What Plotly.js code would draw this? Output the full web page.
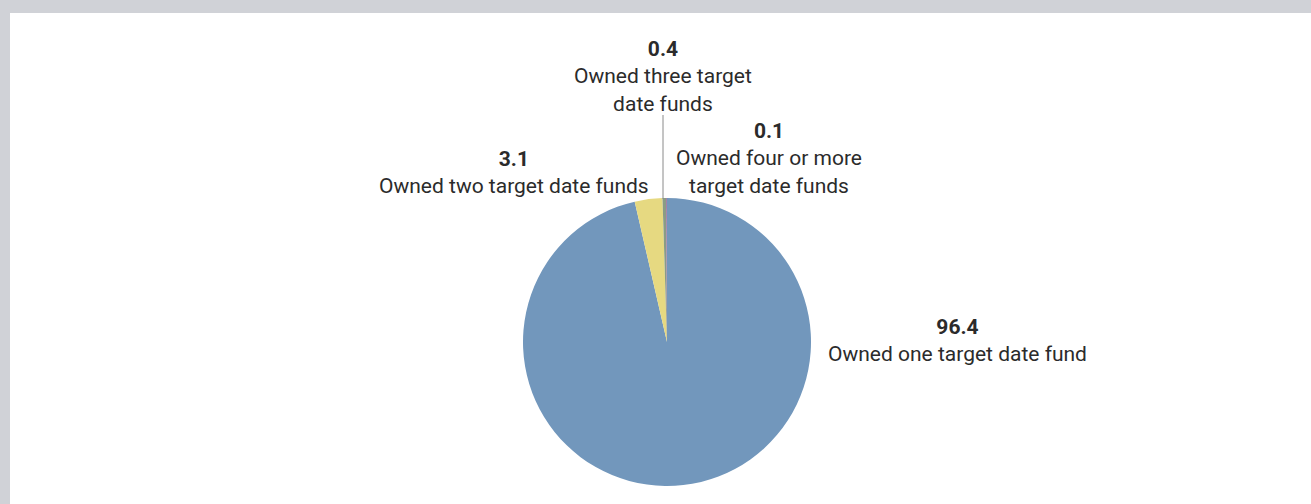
<!DOCTYPE html>
<html>
<head>
<meta charset="utf-8">
<script src="https://cdn.plot.ly/plotly-3.0.1.min.js"></script>
<style>
  html, body { margin: 0; padding: 0; background: #d0d2d7; }
  #chart { width: 1311px; height: 504px; }
</style>
</head>
<body>
<div id="chart"></div>
<script>
// share of target date fund owners, by number of funds owned
var categories = ['Owned one target date fund', 'Owned two target date funds',
    'Owned three target date funds', 'Owned four or more target date funds'];
var shares = [96.4, 3.1, 0.4, 0.1];
var valueLabels = ['96.4', '3.1', '0.4', '0.1'];
var labelLines = [
    ['Owned one target date fund'],
    ['Owned two target date funds'],
    ['Owned three target', 'date funds'],
    ['Owned four or more', 'target date funds']
];
var colors = ['#7297bc', '#e6d981', '#8a9c86', '#9c6f9e'];

var W = 1311, H = 504;
function px(x) { return x / W; }
function py(y) { return 1 - y / H; }

// where each label block sits (center, in pixels)
var labelPos = [[957, 340], [514, 172], [663, 76], [769, 158]];

var trace = {
    type: 'pie',
    labels: categories,
    values: shares,
    sort: false,
    direction: 'clockwise',
    rotation: 0,
    textinfo: 'none',
    hoverinfo: 'label+value',
    marker: { colors: colors, line: { width: 0 } },
    domain: { x: [px(523), px(811)], y: [py(486), py(198)] },
    showlegend: false
};

var annotations = [];
for (var i = 0; i < categories.length; i++) {
    annotations.push({
        xref: 'paper', yref: 'paper',
        x: px(labelPos[i][0]), y: py(labelPos[i][1]),
        xanchor: 'center', yanchor: 'middle',
        showarrow: false,
        align: 'center',
        text: '<b>' + valueLabels[i] + '</b><br>' + labelLines[i].join('<br>'),
        font: { family: 'Liberation Sans Narrow, Roboto, sans-serif', size: 21, color: '#2b2b2b' }
    });
}

var layout = {
    width: W,
    height: H,
    margin: { l: 0, r: 0, t: 0, b: 0 },
    paper_bgcolor: '#d0d2d7',
    plot_bgcolor: '#ffffff',
    shapes: [
        { type: 'rect', xref: 'paper', yref: 'paper', layer: 'below',
          x0: px(10), x1: 1, y0: 0, y1: py(13),
          fillcolor: '#ffffff', line: { width: 0 } },
        { type: 'line', xref: 'paper', yref: 'paper',
          x0: px(663), x1: px(663), y0: py(115), y1: py(199),
          line: { color: '#8a8a8a', width: 1 } }
    ],
    annotations: annotations
};

Plotly.newPlot('chart', [trace], layout, { displayModeBar: false });
</script>
</body>
</html>
